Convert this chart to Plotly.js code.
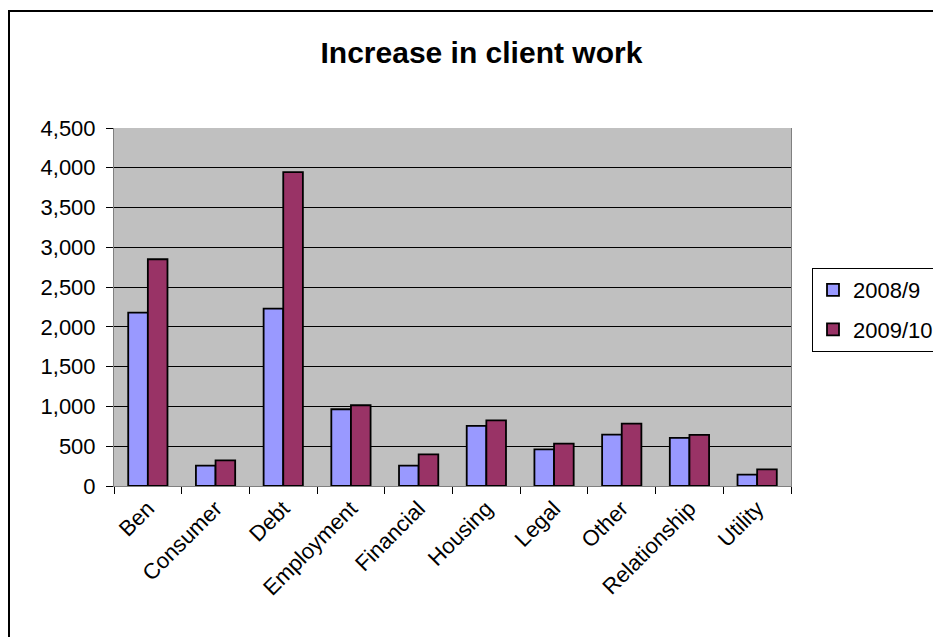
<!DOCTYPE html>
<html>
<head>
<meta charset="utf-8">
<script src="https://cdn.plot.ly/plotly-3.0.1.min.js"></script>
<style>html,body{margin:0;padding:0;background:#fff;}#chart{width:933px;height:637px;}</style>
</head>
<body>
<div id="chart"></div>
<script>
const categories = ["Ben","Consumer","Debt","Employment","Financial","Housing","Legal","Other","Relationship","Utility"];
const series2008 = [2180, 255, 2230, 965, 255, 755, 460, 645, 605, 143];
const series2009 = [2850, 322, 3945, 1015, 398, 825, 533, 785, 642, 210];
const seriesNames = ["2008/9", "2009/10"];
const yTickValues = [0,500,1000,1500,2000,2500,3000,3500,4000,4500];

const FONT = "Liberation Sans, Arial, sans-serif";

const traces = [
  {type:"bar", name:seriesNames[0], x:categories, y:series2008, legendgroup:"a",
   marker:{color:"#9999FF", line:{color:"#000", width:1.8}}},
  {type:"bar", name:seriesNames[1], x:categories, y:series2009, legendgroup:"b",
   marker:{color:"#993366", line:{color:"#000", width:1.8}}}
];

const layout = {
  width:933, height:637,
  margin:{l:114, r:142, t:128, b:151, pad:0, autoexpand:false},
  paper_bgcolor:"#fff",
  plot_bgcolor:"#C0C0C0",
  font:{family:FONT, color:"#000", size:22},
  title:{text:"<b>Increase in client work</b>", font:{family:FONT, size:30, color:"#000"},
         x:0.516, xref:"container", xanchor:"center", y:0.917, yref:"container", yanchor:"middle"},
  barmode:"group", bargap:0.42, bargroupgap:0,
  showlegend:true,
  legend:{x:812/933, xref:"container", xanchor:"left", y:(637-268)/637, yref:"container", yanchor:"top",
          bgcolor:"#fff", bordercolor:"#000", borderwidth:1, font:{family:FONT, size:22},
          traceorder:"grouped", tracegroupgap:8, itemwidth:30},
  xaxis:{type:"category", tickangle:-45, ticks:"outside", ticklen:7, tickcolor:"#000",
         tickson:"boundaries", showgrid:false, showline:true, linecolor:"#808080", linewidth:1,
         mirror:false, tickfont:{family:FONT, size:22}, fixedrange:true, automargin:false},
  yaxis:{range:[0,4500], tickvals:yTickValues, tickformat:",d", ticks:"outside", ticklen:7,
         tickcolor:"#000", showgrid:true, gridcolor:"#000", gridwidth:1, zeroline:false,
         showline:true, linecolor:"#808080", linewidth:1, mirror:true,
         ticklabelstandoff:6, tickfont:{family:FONT, size:22}, fixedrange:true, automargin:false},
  shapes:[
    {type:"rect", xref:"paper", yref:"paper",
     x0:(9-114)/677, x1:1.5, y0:-1, y1:(486-11)/358,
     line:{color:"#000", width:2}, fillcolor:"rgba(0,0,0,0)", layer:"above"}
  ]
};

Plotly.newPlot("chart", traces, layout, {displayModeBar:false, staticPlot:true});
</script>
</body>
</html>
